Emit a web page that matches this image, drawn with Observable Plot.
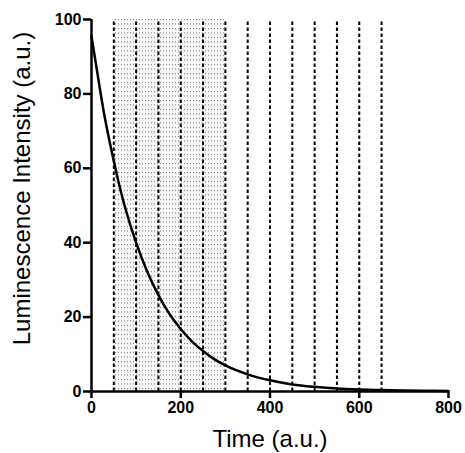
<!DOCTYPE html>
<html><head><meta charset="utf-8">
<script src="https://cdn.jsdelivr.net/npm/d3@7"></script>
<script src="https://cdn.jsdelivr.net/npm/@observablehq/plot@0.6"></script>
<style>body{margin:0;background:#fff;} svg{display:block;}
</style>
</head><body><div id="chart"></div>
<script>
const times = [0,10,20,30,40,50,60,75,100,125,150,175,200,225,250,275,300,350,400,450,500,550,600,650,700,750,800];
const intensity = [95.5,88,80.5,73.5,67.5,62,56.6,49.6,40,32.2,25.9,20.8,16.8,13.5,10.9,8.7,7.0,4.6,3.0,1.9,1.25,0.8,0.55,0.4,0.3,0.2,0.15];
const markers = [50,100,150,200,250,300,350,400,450,500,550,600,650];
const shadedStart = [50];
const shadedEnd = [300];
const xTicks = [0,200,400,600,800];
const yTicks = [0,20,40,60,80,100];
const xLabel = "Time (a.u.)";
const yLabel = "Luminescence Intensity (a.u.)";

const curve = times.map((t,i)=>({t, v:intensity[i]}));
const font = "Liberation Sans, Arial, sans-serif";

const plot = Plot.plot({
  width: 465, height: 453,
  marginLeft: 91, marginRight: 17, marginTop: 19, marginBottom: 62,
  style: {fontFamily: font, background: "#fff", overflow: "visible"},
  x: {domain: [0,800]},
  y: {domain: [0,100]},
  marks: [
    Plot.rectX([{a: shadedStart[0], b: shadedEnd[0]}], {x1: "a", x2: "b", y1: 0, y2: 100, fill: "url(#dots)"}),
    Plot.ruleX(markers, {y1: 0, y2: 100, stroke: "#000", strokeWidth: 2, strokeDasharray: "3.5,2.5"}),
    Plot.line(curve, {x: "t", y: "v", curve: "monotone-x", stroke: "#000", strokeWidth: 2.5}),
    Plot.ruleY([0], {x1: 0, x2: 800, stroke: "#000", strokeWidth: 2.5}),
    Plot.ruleX([0], {y1: 0, y2: 100, stroke: "#000", strokeWidth: 2.5}),
    Plot.axisX({ticks: xTicks, tickSize: 7, tickPadding: 3, fontSize: 16, fontWeight: "bold", strokeWidth: 2.5, label: null, tickFormat: d3.format("d")}),
    Plot.axisY({ticks: yTicks, tickSize: 8, tickPadding: 2, fontSize: 16, fontWeight: "bold", strokeWidth: 2.5, label: null, tickFormat: d3.format("d")}),
    Plot.text([xLabel], {frameAnchor: "bottom", dy: 55, fontSize: 24, fill: "#000", textAnchor: "middle"}),
    Plot.text([yLabel], {frameAnchor: "left", dx: -69, dy: -17, rotate: -90, fontSize: 24, fill: "#000", textAnchor: "middle"})
  ]
});

plot.querySelectorAll('g[aria-label$="tick label"]').forEach(g => {
  g.setAttribute("font-weight", "bold");
  g.style.fontWeight = "bold";
  g.querySelectorAll("text").forEach(t => t.style.fontWeight = "bold");
});
plot.querySelectorAll('g[aria-label$="tick"]').forEach(g => {
  g.setAttribute("stroke-width", "2.5");
  g.setAttribute("stroke", "#000");
});

const ns = "http://www.w3.org/2000/svg";
const defs = document.createElementNS(ns, "defs");
const pat = document.createElementNS(ns, "pattern");
pat.setAttribute("id", "dots");
pat.setAttribute("patternUnits", "userSpaceOnUse");
pat.setAttribute("width", "3");
pat.setAttribute("height", "4.5");
const bg = document.createElementNS(ns, "rect");
bg.setAttribute("width", "3"); bg.setAttribute("height", "4.5"); bg.setAttribute("fill", "#f8f8f8");
const dot = document.createElementNS(ns, "rect");
dot.setAttribute("x", "1"); dot.setAttribute("y", "1"); dot.setAttribute("width", "1"); dot.setAttribute("height", "1"); dot.setAttribute("fill", "#6a6a6a");
pat.appendChild(bg); pat.appendChild(dot);
defs.appendChild(pat);
plot.insertBefore(defs, plot.firstChild);
document.getElementById("chart").appendChild(plot);
</script></body></html>
